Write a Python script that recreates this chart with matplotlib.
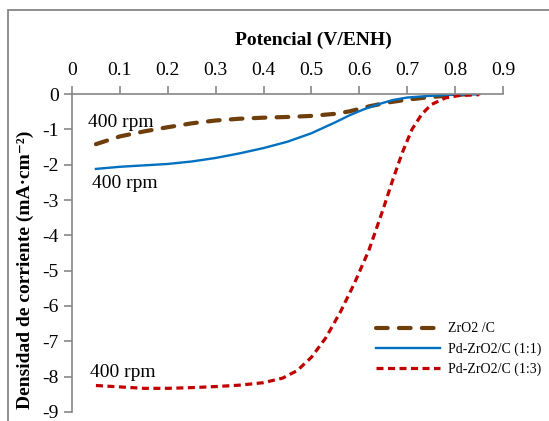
import numpy as np
import matplotlib.pyplot as plt
from matplotlib.patches import Rectangle

plt.rcParams['font.family'] = ['Liberation Serif', 'DejaVu Serif']

# ZrO2/C
x_zro2 = [0.05, 0.10, 0.15, 0.20, 0.25, 0.30, 0.35, 0.40, 0.45, 0.50, 0.55, 0.58, 0.62, 0.66, 0.70, 0.74, 0.78, 0.82, 0.85]
y_zro2 = [-1.42, -1.20, -1.06, -0.94, -0.83, -0.75, -0.70, -0.67, -0.65, -0.62, -0.56, -0.49, -0.35, -0.24, -0.16, -0.10, -0.05, -0.01, 0.0]

# Pd-ZrO2/C (1:1)
x_11 = [0.05, 0.10, 0.15, 0.20, 0.25, 0.30, 0.35, 0.40, 0.45, 0.50, 0.55, 0.58, 0.61, 0.64, 0.67, 0.70, 0.75, 0.80, 0.85]
y_11 = [-2.12, -2.06, -2.02, -1.98, -1.91, -1.81, -1.68, -1.53, -1.35, -1.11, -0.80, -0.60, -0.43, -0.29, -0.17, -0.10, -0.05, -0.02, -0.01]

# Pd-ZrO2/C (1:3)
x_13 = [0.05, 0.10, 0.15, 0.20, 0.25, 0.30, 0.35, 0.40, 0.44, 0.47, 0.50, 0.53, 0.56, 0.59, 0.62, 0.65, 0.67, 0.69, 0.71, 0.73, 0.75, 0.78, 0.81, 0.85]
y_13 = [-8.25, -8.29, -8.33, -8.33, -8.31, -8.28, -8.24, -8.17, -8.04, -7.83, -7.45, -6.90, -6.18, -5.35, -4.42, -3.25, -2.42, -1.65, -1.00, -0.58, -0.30, -0.11, -0.04, -0.02]

labels = ['ZrO2 /C', 'Pd-ZrO2/C (1:1)', 'Pd-ZrO2/C (1:3)']
xticks = np.arange(0, 0.91, 0.1)
yticks = np.arange(-9, 0.1, 1)

fig = plt.figure(figsize=(5.49, 4.21), dpi=100)
ax = fig.add_axes([72/549, 1 - 412/421, 431/549, 318/421])

gray = '#868686'
ax.plot(x_zro2, y_zro2, color='#6e3f0c', lw=3.0, dashes=(2.8, 2.7), dash_capstyle='round', label=labels[0])
ax.plot(x_11, y_11, color='#0070c0', lw=1.7, label=labels[1])
ax.plot(x_13, y_13, color='#c00000', lw=2.3, dashes=(2.2, 1.4), label=labels[2])

ax.set_xlim(0, 0.9)
ax.set_ylim(-9, 0)
ax.set_xticks(xticks)
ax.set_yticks(yticks)
ax.set_xticklabels(['0'] + ['%.1f' % v for v in xticks[1:]])
ax.set_yticklabels(['%d' % v for v in yticks])
ax.xaxis.tick_top()
ax.tick_params(axis='both', labelsize=14, colors=gray, labelcolor='black', direction='out', length=6, width=1.2)
ax.tick_params(axis='x', pad=5)
for s in ['bottom', 'right']:
    ax.spines[s].set_visible(False)
for s in ['top', 'left']:
    ax.spines[s].set_color(gray)
    ax.spines[s].set_linewidth(1.2)

fig.text(313/549, 1 - 40/421, 'Potencial (V/ENH)', fontsize=14, fontweight='bold',
         ha='center', va='center')
fig.text(25/549, 1 - 270/421, 'Densidad de corriente (mA·cm⁻²)', fontsize=14, fontweight='bold',
         rotation=90, ha='center', va='center')

ax.text(0.033, -0.8, '400 rpm', fontsize=14, va='center')
ax.text(0.042, -2.52, '400 rpm', fontsize=14, va='center')
ax.text(0.037, -7.88, '400 rpm', fontsize=14, va='center')

ax.legend(loc='lower right', bbox_to_anchor=(1.118, 0.073), frameon=False, fontsize=10,
          handlelength=4.6, labelspacing=0.5, handletextpad=0.6)

fig.patches.append(Rectangle((8/549, -0.2), 1.2, 1.2 - 10/421, transform=fig.transFigure,
                             fill=False, edgecolor=gray, lw=1.3))

fig.savefig('out.png', dpi=100)
